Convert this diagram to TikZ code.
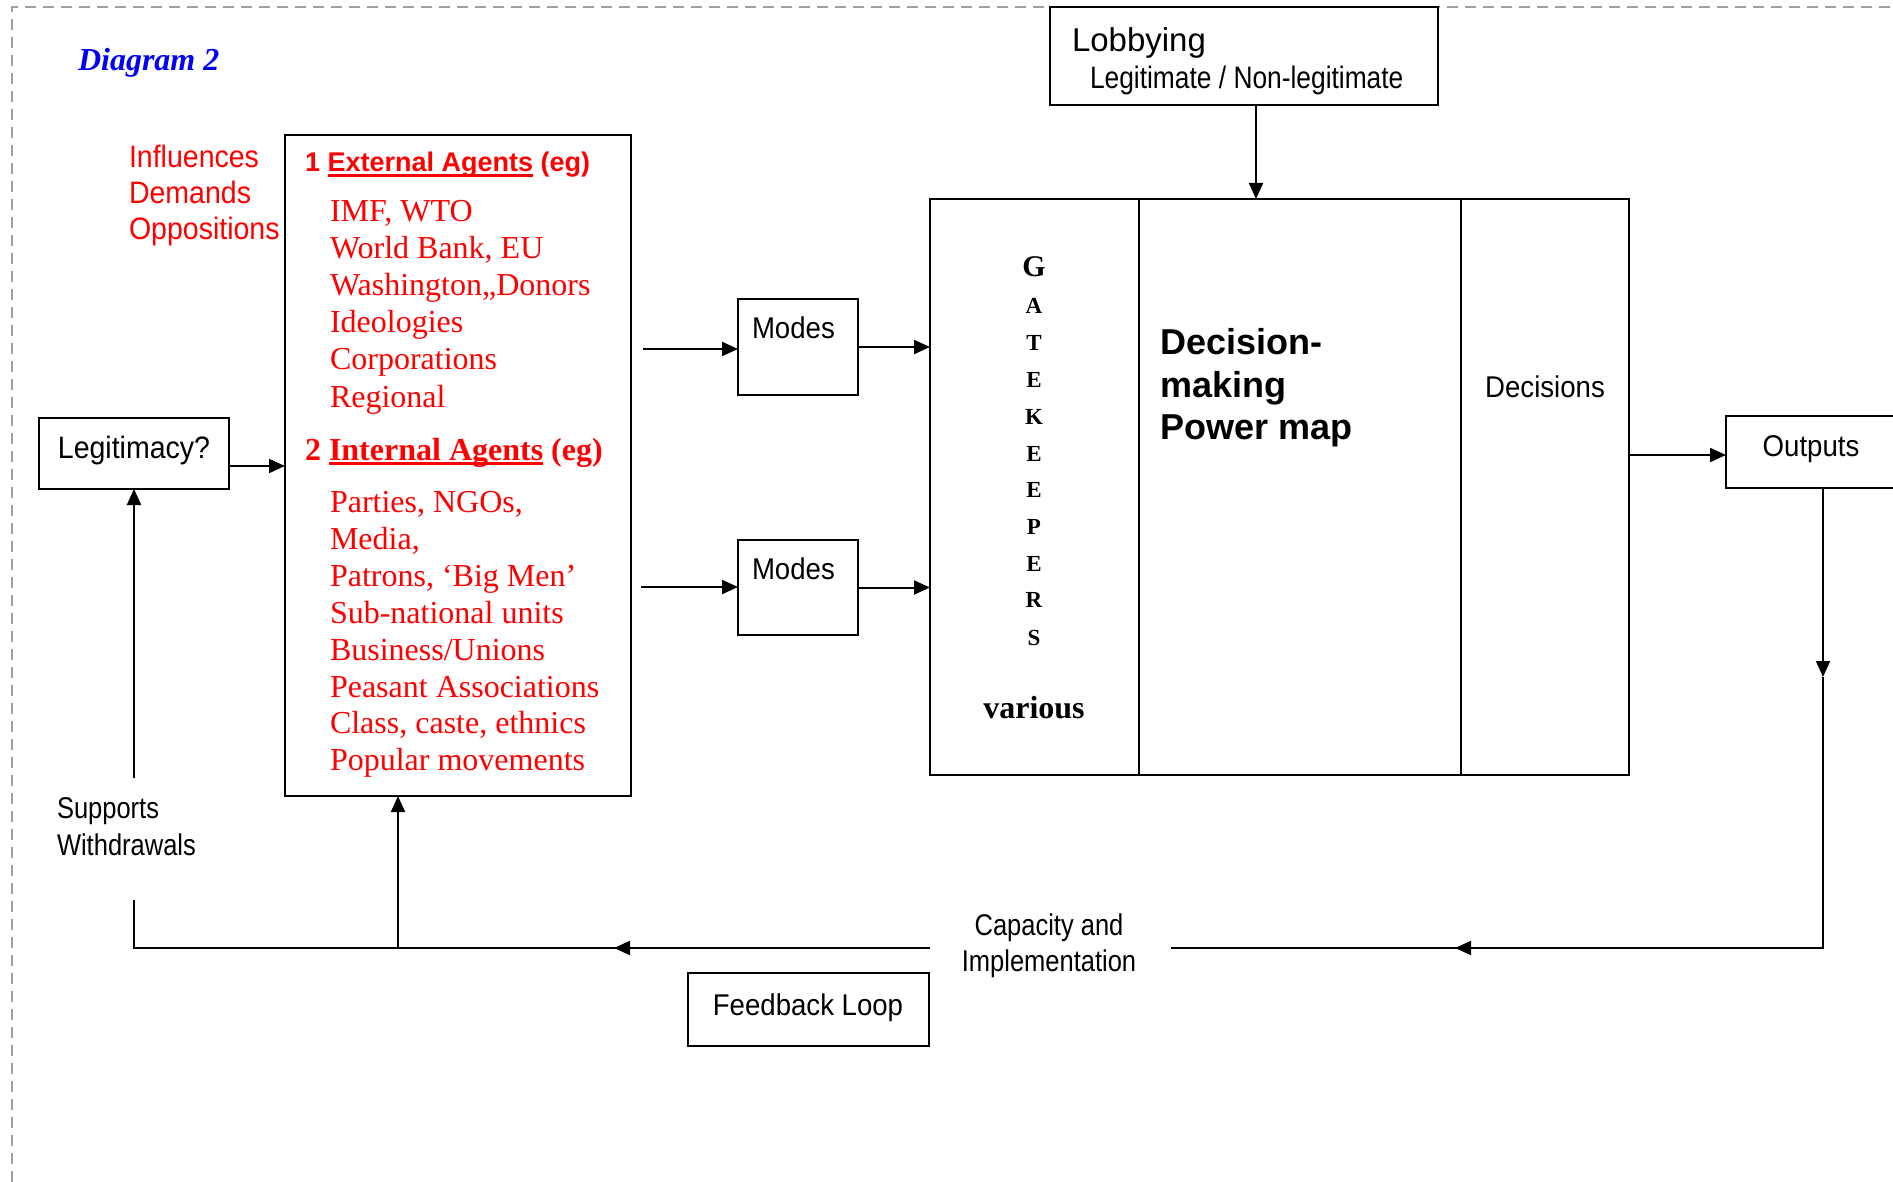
\documentclass[tikz,border=0pt]{standalone}
\usepackage{fontspec}
\setmainfont{Liberation Serif}
\newfontfamily\arialf{Liberation Sans}
\newfontfamily\narrowf[FakeStretch=0.92]{Liberation Sans}
\newfontfamily\narrowerf[FakeStretch=0.85]{Liberation Sans}
\usetikzlibrary{arrows.meta}
\definecolor{dgray}{RGB}{160,160,160}
\definecolor{dblue}{RGB}{0,0,245}
\newcommand\myul[1]{\setbox0=\hbox{#1}\rlap{\rule[-5pt]{\wd0}{2.6pt}}\box0\relax}
\begin{document}
\begin{tikzpicture}[x=1pt,y=-1pt,
  every node/.style={inner sep=0pt, outer sep=0pt},
  txt/.style={anchor=base west},
  ctxt/.style={anchor=base},
  box/.style={draw, line width=2.4pt, fill=white, anchor=north west},
  ln/.style={line width=2pt},
  arr/.style={line width=2pt, -{Triangle[length=16pt,width=14pt]}},
  redser/.style={txt, text=red, font=\fontsize{32}{37}\selectfont},
  nar/.style={font=\narrowf\fontsize{30}{36}\selectfont},
  narr/.style={font=\narrowerf\fontsize{30}{36}\selectfont},
  gk/.style={ctxt, font=\bfseries\fontsize{23}{27}\selectfont}
]
\useasboundingbox (0,0) rectangle (1893,1182);
\clip (0,0) rectangle (1893,1182);
\draw[dgray, line width=1.5pt, dash pattern=on 11pt off 7pt] (12,1182) -- (12,7) -- (1893,7);

% title
\node[txt, text=dblue, font=\bfseries\itshape\fontsize{32}{38}\selectfont] (title) at (78,71) {Diagram 2};

% influences
\node[txt, text=red, font=\narrowf\fontsize{31}{36}\selectfont] (inf1) at (129,168) {Influences};
\node[txt, text=red, font=\narrowf\fontsize{31}{36}\selectfont] (inf2) at (129,204) {Demands};
\node[txt, text=red, font=\narrowf\fontsize{31}{36}\selectfont] (inf3) at (129,240) {Oppositions};

% agents box
\node[box, minimum width=346pt, minimum height=661pt] (ext) at (285,135) {};
\node[txt, text=red, font=\arialf\bfseries\fontsize{27}{32}\selectfont] (exth) at (305,172) {1 \myul{External Agents} (eg)};
\node[redser] (ea1) at (330,222) {IMF, WTO};
\node[redser] (ea2) at (330,259) {World Bank, EU};
\node[redser] (ea3) at (330,296) {Washington,,Donors};
\node[redser] (ea4) at (330,333) {Ideologies};
\node[redser] (ea5) at (330,370) {Corporations};
\node[redser] (ea6) at (330,407) {Regional};
\node[txt, text=red, font=\bfseries\fontsize{32}{37}\selectfont] (inth) at (305,460) {2 \myul{Internal Agents} (eg)};
\node[redser] (ia1) at (330,512) {Parties, NGOs,};
\node[redser] (ia2) at (330,549) {Media,};
\node[redser] (ia3) at (330,586) {Patrons, ‘Big Men’};
\node[redser] (ia4) at (330,623) {Sub-national units};
\node[redser] (ia5) at (330,660) {Business/Unions};
\node[redser] (ia6) at (330,697) {Peasant Associations};
\node[redser] (ia7) at (330,733) {Class, caste, ethnics};
\node[redser] (ia8) at (330,770) {Popular movements};

% legitimacy
\node[box, minimum width=190pt, minimum height=71pt] (legit) at (39,418) {};
\node[ctxt, font=\narrowf\fontsize{31}{36}\selectfont] (legt) at (134,458) {Legitimacy?};
\node[txt, narr] (sup1) at (57,818) {Supports};
\node[txt, narr] (sup2) at (57,855) {Withdrawals};

% modes
\node[box, minimum width=120pt, minimum height=96pt] (modes1) at (738,299) {};
\node[txt, nar] (mt1) at (752,338) {Modes};
\node[box, minimum width=120pt, minimum height=95pt] (modes2) at (738,540) {};
\node[txt, nar] (mt2) at (752,579) {Modes};

% big box
\node[box, minimum width=209pt, minimum height=576pt] (gate) at (930,199) {};
\node[box, minimum width=322pt, minimum height=576pt] (dmap) at (1139,199) {};
\node[box, minimum width=168pt, minimum height=576pt] (decs) at (1461,199) {};
\node[ctxt, font=\bfseries\fontsize{30}{34}\selectfont] (gG) at (1034,277) {G};
\node[gk] (gA) at (1034,314) {A};
\node[gk] (gT) at (1034,350) {T};
\node[gk] (gE1) at (1034,387) {E};
\node[gk] (gK) at (1034,424) {K};
\node[gk] (gE2) at (1034,461) {E};
\node[gk] (gE3) at (1034,497) {E};
\node[gk] (gP) at (1034,534) {P};
\node[gk] (gE4) at (1034,571) {E};
\node[gk] (gR) at (1034,607) {R};
\node[gk] (gS) at (1034,645) {S};
\node[ctxt, font=\bfseries\fontsize{32}{37}\selectfont] (various) at (1034,718) {various};
\node[txt, font=\arialf\bfseries\fontsize{36}{42}\selectfont] (dm1) at (1160,355) {Decision-};
\node[txt, font=\arialf\bfseries\fontsize{36}{42}\selectfont] (dm2) at (1160,397) {making};
\node[txt, font=\arialf\bfseries\fontsize{36}{42}\selectfont] (dm3) at (1160,439) {Power map};
\node[ctxt, nar] (dect) at (1545,397) {Decisions};

% lobbying
\node[box, minimum width=388pt, minimum height=98pt] (lob) at (1050,7) {};
\node[txt, font=\arialf\fontsize{33}{38}\selectfont] (lobt) at (1072,52) {Lobbying};
\node[txt, font=\narrowerf\fontsize{31}{36}\selectfont] (lobs) at (1090,89) {Legitimate / Non-legitimate};

% outputs
\node[box, minimum width=250pt, minimum height=72pt] (outp) at (1726,416) {};
\node[ctxt, nar] (outt) at (1811,456) {Outputs};

% feedback
\node[box, minimum width=241pt, minimum height=73pt] (fb) at (688,973) {};
\node[ctxt, nar] (fbt) at (808,1015) {Feedback Loop};
\node[ctxt, narr] (cap1) at (1049,935) {Capacity and};
\node[ctxt, narr] (cap2) at (1049,971) {Implementation};

% connectors
\coordinate (ly) at (0,466);
\draw[arr] (legit.east |- ly) -- (ext.west |- ly);
\coordinate (supTop) at (134,778);
\draw[arr] (supTop) -- (legit.south);
\coordinate (m1s) at (643,349);
\draw[arr] (m1s) -- (modes1.west |- m1s);
\draw[arr] (modes1.east) -- (gate.west |- modes1.east);
\coordinate (m2s) at (641,587);
\draw[arr] (m2s) -- (modes2.west |- m2s);
\draw[arr] (modes2.east) -- (gate.west |- modes2.east);
\coordinate (lobx) at (1256,0);
\draw[arr] (lob.south -| lobx) -- (dmap.north -| lobx);
\coordinate (oy) at (0,455);
\draw[arr] (decs.east |- oy) -- (outp.west |- oy);
\coordinate (c1) at (1823,948);
\coordinate (mid) at (1823,677);
\draw[arr] (c1 |- outp.south) -- (mid);
\coordinate (capR) at (1171,948);
\coordinate (tipR) at (1455,948);
\draw[ln] (mid) -- (c1) -- (capR);
\draw[arr] (c1) -- (tipR);
\coordinate (capL) at (930,948);
\coordinate (tipL) at (614,948);
\coordinate (bl) at (134,948);
\coordinate (swTop) at (134,900);
\draw[ln] (capL) -- (bl) -- (swTop);
\draw[arr] (capL) -- (tipL);
\coordinate (extUp) at (398,948);
\draw[arr] (extUp) -- (ext.south -| extUp);
\end{tikzpicture}
\end{document}
